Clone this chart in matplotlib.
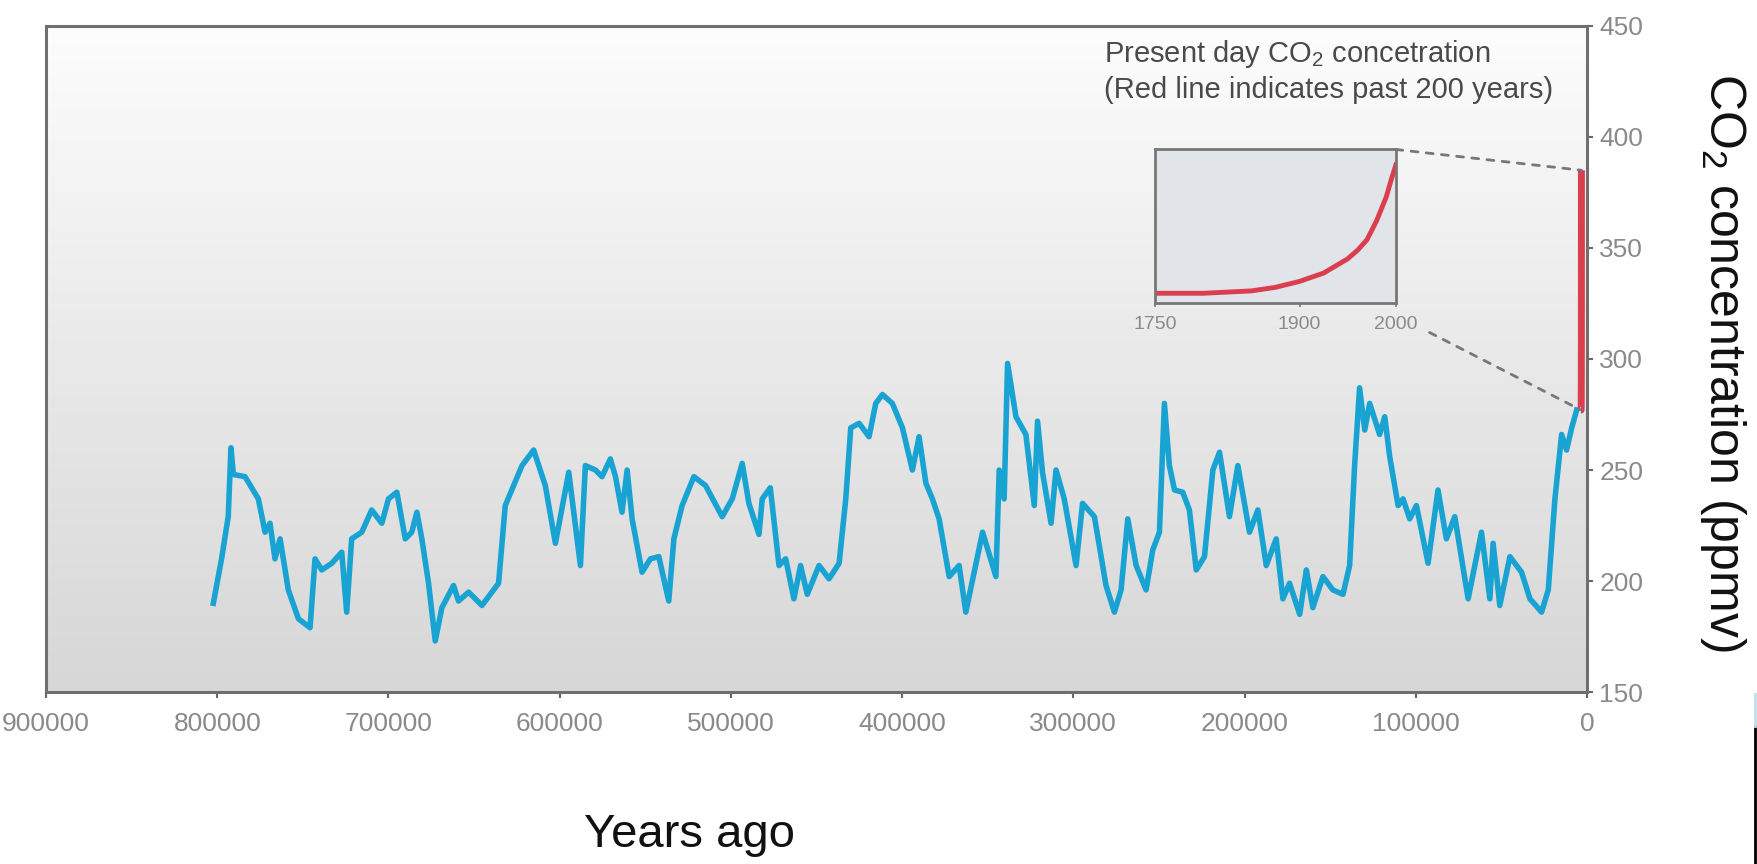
import matplotlib
matplotlib.use('Agg')
import matplotlib.pyplot as plt
import matplotlib.transforms as mtransforms
from matplotlib.colors import LinearSegmentedColormap
from matplotlib.patches import ConnectionPatch
from matplotlib.lines import Line2D
import matplotlib.ticker as ticker
import numpy as np

plt.rcParams['font.family'] = ['Liberation Sans', 'DejaVu Sans']
plt.rcParams['mathtext.fontset'] = 'custom'
plt.rcParams['mathtext.rm'] = 'Liberation Sans'

# ice core record (years before present, ppmv)
years_ago = [802300, 797500, 793600, 792000, 790600, 783800, 776000, 772100, 769200, 766300,
             763300, 758500, 752600, 745800, 742900, 739000, 733100, 727300, 724400, 721500,
             715600, 709800, 703900, 700000, 695100, 690200, 686400, 683400, 680500, 676600,
             672700, 668800, 662000, 659100, 653200, 645400, 635700, 631800, 622000, 615200,
             608400, 602500, 594700, 587900, 585000, 579100, 575300, 570400, 567400, 563600,
             560600, 557700, 551900, 547000, 542100, 536300, 533300, 528500, 521600, 514800,
             505100, 499200, 493400, 489500, 483600, 481700, 477000, 471900, 468000, 463200,
             459300, 455400, 448500, 442700, 436800, 432900, 430000, 425100, 419300, 415400,
             411500, 405700, 399800, 394000, 390100, 386100, 382300, 378400, 372500, 366700,
             362800, 353000, 345200, 343300, 340400, 338400, 333500, 327700, 322800, 320900,
             318000, 313000, 310100, 305300, 298400, 294600, 287700, 280900, 276000, 272100,
             268200, 263300, 257500, 253600, 249700, 246800, 243900, 240900, 236100, 232200,
             228200, 223400, 218500, 214600, 208800, 203900, 197100, 192200, 187300, 181500,
             177600, 173700, 167800, 163900, 160100, 154200, 148400, 142500, 138600, 135700,
             132800, 129800, 126900, 121100, 118100, 115200, 110300, 107400, 103500, 99600,
             92800, 87000, 82100, 77200, 69400, 61600, 56700, 54800, 50900, 45000,
             38200, 33300, 26500, 22600, 18700, 14800, 11900, 8900, 6000]
co2_ppmv = [190, 210, 229, 260, 248, 247, 237, 222, 226, 210,
            219, 196, 183, 179, 210, 205, 208, 213, 186, 219,
            222, 232, 226, 237, 240, 219, 222, 231, 219, 199,
            173, 188, 198, 191, 195, 189, 199, 234, 252, 259,
            243, 217, 249, 207, 252, 250, 247, 255, 247, 231,
            250, 228, 204, 210, 211, 191, 219, 234, 247, 243,
            229, 237, 253, 235, 221, 237, 242, 207, 210, 192,
            207, 194, 207, 201, 208, 237, 269, 271, 265, 280,
            284, 280, 269, 250, 265, 244, 237, 228, 202, 207,
            186, 222, 202, 250, 237, 298, 274, 266, 234, 272,
            249, 226, 250, 237, 207, 235, 229, 198, 186, 196,
            228, 207, 196, 214, 222, 280, 252, 241, 240, 232,
            205, 211, 250, 258, 229, 252, 222, 232, 207, 219,
            192, 199, 185, 205, 188, 202, 196, 194, 207, 252,
            287, 268, 280, 266, 274, 256, 234, 237, 228, 234,
            208, 241, 219, 229, 192, 222, 192, 217, 189, 211,
            204, 192, 186, 196, 237, 266, 259, 269, 277]

# past 200+ years (inset, red line)
recent_years = [1750, 1800, 1850, 1875, 1900, 1925, 1950, 1960, 1970, 1980, 1990, 1995, 2000]
recent_ppmv = [277, 277, 279, 282, 287, 294, 306, 313, 322, 338, 358, 372, 385]

x_ticks = [900000, 800000, 700000, 600000, 500000, 400000, 300000, 200000, 100000, 0]
y_ticks = [150, 200, 250, 300, 350, 400, 450]
inset_ticks = [1750, 1900, 2000]

BLUE = '#19a3d3'
RED = '#db3f4f'
GREY_TXT = '#8a8a8a'

fig = plt.figure(figsize=(17.58, 8.64), dpi=100)
ax = fig.add_axes([0.0262, 0.199, 0.8765, 0.771])

# grey gradient background
cmap = LinearSegmentedColormap.from_list('bg', ['#d7d7d7', '#e9e9e9', '#fdfdfd'])
grad = np.linspace(0, 1, 256).reshape(-1, 1)
ax.imshow(grad, extent=[0, 1, 0, 1], transform=ax.transAxes, cmap=cmap,
          aspect='auto', origin='lower', zorder=0)

ax.plot(years_ago, co2_ppmv, color=BLUE, lw=4, solid_joinstyle='round', zorder=3)

# red line for the last 200 years, sits just left of the right spine
shift = mtransforms.ScaledTranslation(-0.055, 0, fig.dpi_scale_trans)
red_trans = ax.transData + shift
recent_ago = [2000 - y for y in recent_years]
ax.plot(recent_ago, recent_ppmv, color=RED, lw=5, transform=red_trans,
        clip_on=False, zorder=4, solid_capstyle='butt')

ax.set_xlim(900000, 0)
ax.set_ylim(150, 450)
ax.set_xticks(x_ticks)
ax.xaxis.set_major_formatter(ticker.FuncFormatter(lambda v, p: f'{int(v)}'))
ax.set_yticks(y_ticks)
ax.yaxis.tick_right()
ax.tick_params(axis='x', direction='out', length=4, width=1.5, color='#666',
               labelsize=19, labelcolor=GREY_TXT, pad=10)
ax.tick_params(axis='y', direction='out', length=4, width=1.5, color='#666',
               labelsize=19, labelcolor=GREY_TXT, pad=5)
for s in ax.spines.values():
    s.set_color('#6f6f6f')
    s.set_linewidth(2.2)

fig.text(0.392, 0.034, 'Years ago', fontsize=34, ha='center', va='center', color='#111')
fig.text(0.980, 0.581, r'CO$_2$ concentration (ppmv)', fontsize=36, rotation=270,
         ha='center', va='center', color='#111')

fig.text(0.628, 0.937, r'Present day CO$_2$ concetration', fontsize=21,
         color='#4a4a4a', ha='left', va='center')
fig.text(0.628, 0.896, '(Red line indicates past 200 years)', fontsize=21,
         color='#4a4a4a', ha='left', va='center')

# inset
ins = fig.add_axes([0.657, 0.649, 0.137, 0.178])
ins.set_facecolor('#e1e4e8')
ins.plot(recent_years, recent_ppmv, color=RED, lw=3.5, solid_joinstyle='round')
ins.set_xlim(1750, 2000)
ins.set_ylim(268.6, 398)
ins.set_xticks(inset_ticks)
ins.set_yticks([])
ins.tick_params(axis='x', length=3, width=1.2, color='#777', labelsize=14,
                labelcolor=GREY_TXT, pad=6)
for s in ins.spines.values():
    s.set_color('#777')
    s.set_linewidth(2)

# dashed connectors from inset to red line
con_top = ConnectionPatch(xyA=(1.0, 1.0), coordsA=ins.transAxes,
                          xyB=(recent_ago[-1], recent_ppmv[-1]), coordsB=red_trans,
                          color='#777', lw=2, linestyle=(0, (2.5, 3)))
con_bot = ConnectionPatch(xyA=(1.14, -0.19), coordsA=ins.transAxes,
                          xyB=(recent_ago[0], recent_ppmv[0]), coordsB=red_trans,
                          color='#777', lw=2, linestyle=(0, (2.5, 3)))
fig.add_artist(con_top)
fig.add_artist(con_bot)

# screenshot edge artefact on the right
fig.add_artist(Line2D([0.9985, 0.9985], [0.0, 0.16], transform=fig.transFigure,
                      color='black', lw=2))
fig.add_artist(Line2D([0.9985, 0.9985], [0.16, 0.197], transform=fig.transFigure,
                      color='#bfe0ef', lw=2))

fig.savefig('out.png', dpi=100)
